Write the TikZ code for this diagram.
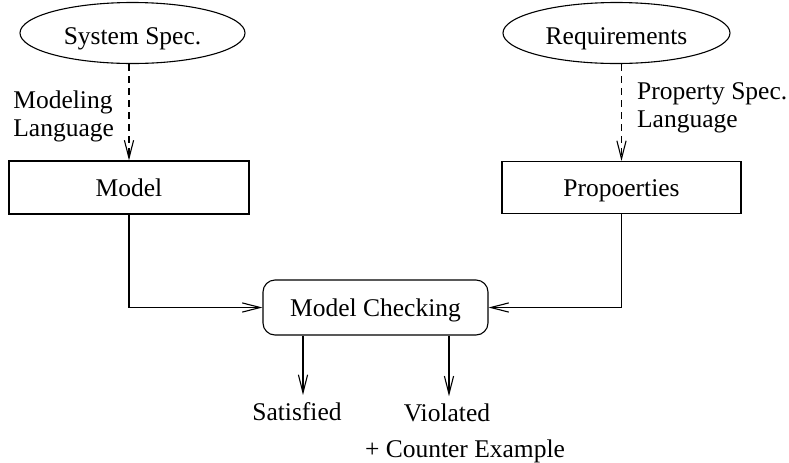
\documentclass[tikz,border=0pt]{standalone}
\usepackage{fontspec}
\setmainfont{Liberation Serif}
\usetikzlibrary{shapes.geometric,arrows.meta,calc}
\begin{document}
\begin{tikzpicture}[x=0.5pt,y=-0.5pt,
  every node/.style={font=\fontsize{12.75}{14}\selectfont},
  ln/.style={line width=0.55pt},
  arr/.style={ln,-{Straight Barb[length=9pt,width=4.6pt]}},
  dsh/.style={arr,dash pattern=on 3.5pt off 2.5pt},
  src/.style={ellipse,draw,ln,inner sep=0pt,text height=11.5pt,text depth=0pt},
  box/.style={rectangle,draw,ln,inner sep=0pt,text height=8.7pt,text depth=0pt},
  chk/.style={box,rounded corners=6pt},
  lbl/.style={align=left,inner sep=0pt,anchor=north west},
  res/.style={anchor=base}]
  \useasboundingbox (0,0) rectangle (789,462);

  % sources
  \node[src,minimum width=112.5pt,minimum height=30.5pt] (sys) at (132.5,33) {System Spec.};
  \node[src,minimum width=113.5pt,minimum height=30.5pt] (req) at (616.5,33) {Requirements};

  % artefacts
  \node[box,minimum width=120pt,minimum height=26.5pt] (model) at (129,187.5) {Model};
  \node[box,minimum width=119.5pt,minimum height=26pt] (prop) at (621.5,187.5) {Propoerties};

  % checker
  \node[chk,minimum width=112.5pt,minimum height=27.5pt] (mc) at (375.5,307.5) {Model Checking};

  % outcomes
  \node[res] (sat) at (297,420) {Satisfied};
  \node[res] (vio) at (447,421) {Violated};
  \node[res] (cex) at (465,457.5) {+ Counter Example};

  % translation labels
  \node[lbl] (ml) at (13,90.6) {Modeling\\Language};
  \node[lbl] (pl) at (636.7,82.6) {Property Spec.\\Language};

  % translations
  \draw[dsh] (model.north |- sys.south) -- (model.north);
  \draw[dsh] (prop.north |- req.south) -- (prop.north);

  % inputs to the checker
  \draw[arr] (model.south) |- (mc.west);
  \draw[arr] (prop.south) |- (mc.east);

  % results
  \draw[arr] ([xshift=-36.25pt]mc.south) -- ([xshift=-36.25pt]mc.south |- sat.north);
  \draw[arr] ([xshift=36.75pt]mc.south) -- ([xshift=36.75pt]mc.south |- vio.north);
\end{tikzpicture}
\end{document}
